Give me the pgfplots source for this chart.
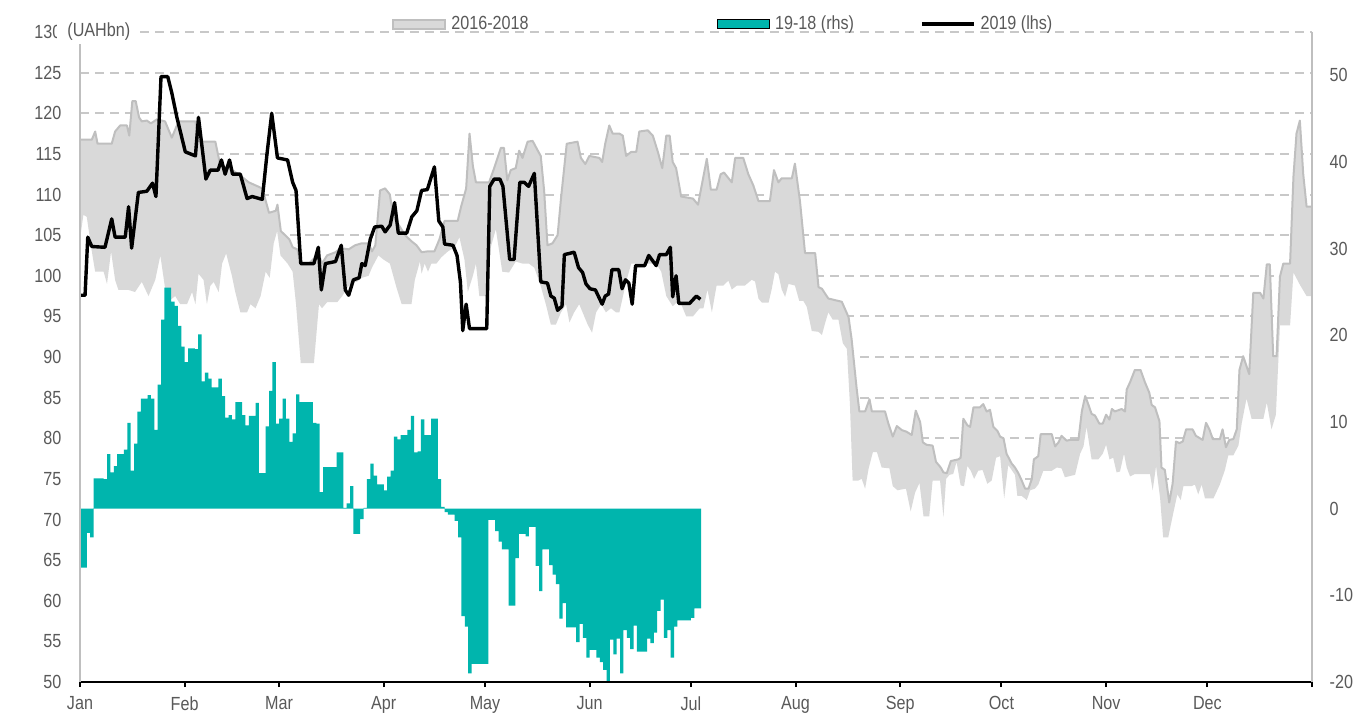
\documentclass[border=0pt]{standalone}
\usepackage{fontspec}
\setmainfont{Liberation Sans}[FakeStretch=0.85]
\usepackage{pgfplots}
\pgfplotsset{compat=1.18}
\usepackage{pgfplotstable}
\usepgfplotslibrary{fillbetween}
\definecolor{bandfill}{HTML}{D9D9D9}
\definecolor{bandline}{HTML}{BFBFBF}
\definecolor{tealc}{HTML}{00B5AD}
\definecolor{gridc}{HTML}{C8C8C8}
\definecolor{labc}{HTML}{595959}

\pgfplotstableread{
x y
0 116.75
3.5 116.75
4.5 117.75
5.2 116.25
9.4 116.25
10.4 117.75
11.9 118.5
13.9 118.5
14.6 117.25
15.5 121.5
16.5 121.5
17.5 119.5
18.3 119
19.8 119.1
21 118.75
22.8 119.25
25.2 119
27.2 117
29.2 119
34.2 119
35.1 116.5
40.1 116.5
41.6 113.5
44 113.25
45.5 112.9
48.5 112
50 111.5
54 110.75
56 107.75
58 108
58.5 108.75
59.5 105.5
62 104.5
63 103.5
64.4 103.25
65.4 101.5
67.8 101.5
69.3 102.1
70.8 102.5
71.7 101.5
73.2 102.5
75.7 102.9
77.2 103.4
79.6 103.25
81.5 103.75
83.5 104
85.5 104
86.5 103
87.5 103.75
88.9 110.5
90.4 110.75
91.8 110
92.8 107.25
94.8 106
96.3 105
98.2 104.25
99.7 103.75
101.2 102.9
103 103
105 103
106.5 104.5
108 106.75
111.9 106.75
112.9 108.5
114.4 110.75
115.4 117.5
116.4 113.5
117.3 111.5
121.2 111.5
122.7 113.25
124.7 115.75
125.6 115.75
126.6 111.75
127.6 113
129.1 113.25
130.1 115.4
131.1 114.5
132.6 116.5
134.1 116.6
135.5 115.5
136.5 114.75
137.5 110.5
138.5 103.75
140 104
141.5 105
142.5 109.5
144.2 116.25
147.4 116.5
148.4 114.5
149.7 113.75
150.9 114.75
153.9 114.5
154.7 114
155.6 116.25
156.8 118.5
157.8 117.5
159.8 117.5
160.8 117.25
161.8 114.75
163.3 115.25
164.8 115.25
165.7 117.75
168.2 117.9
169.7 117.25
171.2 115.25
172.5 113.25
173.7 117.25
174.7 117.25
175.6 114
176.6 113.25
178.1 109.75
181.6 109.5
183.1 108.75
185.7 114.4
186.9 110.6
188.6 110.6
189.8 112.5
190.8 112.7
193.1 111.5
194.1 114.5
196.5 114.5
198 112.5
199.5 111.1
201 109.2
204.4 109.2
205.6 113
206.9 111.5
207.9 112
210.9 112
211.8 113.8
213.3 109.2
214.8 102.8
217.8 102.8
218.8 98.6
219.8 98.4
221.7 97.2
225.7 96.8
227.7 94.9
228.6 92.2
230.1 86.1
230.9 83.3
232.6 83.3
233.9 84.8
234.6 83.3
238.5 83.3
239.5 81.8
240.8 80.2
242 81.5
243.5 81
244.9 80.8
246.4 80.4
247.6 83.4
248.9 82
249.7 79.5
250.8 79.2
252.6 79.1
253.6 77.1
255 76.4
255.8 75.8
256.8 75.7
258 77.2
260.2 77.4
260.9 77.6
261.7 82.4
262.9 81.6
263.7 81.4
264.7 83.8
266.6 83.8
267.6 84.2
268.6 83.3
269.6 83.5
270.6 81.4
271.8 80.9
272.6 80.2
273.6 80
274.5 78.1
276 76.9
277 76.4
278 75.7
279 74.8
280 73.8
281 73.8
282 75
282.6 77.4
283.9 77.8
284.6 80.5
287.9 80.5
288.9 79
289.9 79.5
290.8 80.3
292.3 79.7
293.3 79.8
295.8 79.8
296.8 83.3
297.8 85.2
298.7 84.2
299.7 83
300.7 82.8
302 81.8
303 81.8
304 82.9
305 82.3
305.7 83.6
306.6 83.3
308.6 83.6
309.6 83.3
310.1 86
311.1 86.9
312.5 88.4
314.2 88.4
315.5 86.9
316.8 85.6
317.5 84.1
318.5 83.8
319.8 82.1
320.4 76.4
321.4 76.1
322.7 72.1
323.7 74.4
324.7 79.6
325.7 79.4
326.7 79.6
327.7 81.1
329.6 81.1
330.6 80.3
332.6 79.8
333.6 81.9
334.6 81.1
335.6 79.9
337.7 79.9
338.5 81.1
339.5 78.9
340.5 79.8
341.7 79.9
342.7 81.1
343.5 88.4
344.6 90.1
346.4 87.9
347.6 97.9
349.6 97.9
350.6 97.2
351.6 101.4
352.5 101.4
353.5 90.1
354.5 90.1
355.5 99.9
356.5 101.5
358.5 101.5
359.5 112.2
360.4 117.5
361.4 119.1
362.4 112.5
363.4 108.5
365 108.5
}\upperband

\pgfplotstableread{
x y
0 104.5
1 107.5
2 107.25
3.5 103
4.5 100.5
7 100.5
8 99
9.2 103
10.4 99.5
11.4 98.25
14.4 98.25
16.3 98
18.3 99.25
20.3 97.5
22.3 99.5
23.8 102.5
25.2 98.5
26.7 97
28.2 97.5
29.7 96.5
31.7 96.5
33.2 98
34.2 96.5
35.1 100.25
36.6 99.5
37.6 96.5
38.6 98.75
39.6 99.25
41.1 98
42.1 101.5
43.3 102.75
45 100
46 98
47.5 95.5
49.5 95.5
50.5 96.5
52 96
53.5 97.5
55 100.5
56.2 99.75
57.4 104
58.4 105.5
59.4 102.5
61.5 101.5
63 100.5
64 96.5
65.4 89.25
69.3 89.25
70.8 96.5
71.7 96
73.2 96.75
76.2 96.75
77.7 97.5
79.1 98.5
80.6 99.25
82 99.25
83.5 99.75
85.5 100
86.5 101
88.4 102.5
89.9 102
91.8 101.5
93.8 98.5
95.3 96.5
98.2 96.5
99.2 99.5
100.7 101.75
101.2 100.25
102.1 101.5
103.1 100.5
104.1 101.5
105.6 101.5
107 102.25
109 103
111 103.5
112.4 104.75
113.9 102
114.9 98
116.4 100
117.3 101.5
118.3 97.5
120.7 97.5
121.7 103.5
123.2 105.75
125.1 100.5
127.1 100.4
129.1 101.75
131.1 101.5
133 101.5
134.6 101
136.5 98.75
138 96.5
139.5 94
141 94
142.5 95.5
144 96.5
145 94.25
146.4 95.5
147.9 96.5
149.4 95
150.4 94
151.7 93
152.9 95.5
154.4 96.5
155.8 95.5
157.3 96
158.8 95.5
159.8 95.5
161.8 99.25
163.3 101.5
170.7 101.5
172.2 100.5
173.7 97.5
175.6 96.25
177.6 97
179.6 95
181.6 95
183.6 96
184.7 96
185.9 98.3
187.2 95.5
188.6 98.8
190.6 98.8
192.1 99.4
193.1 98.3
194.6 98.8
197 98.8
199 99.5
200 99.3
201 97.2
202 96.7
204 96.7
204.9 98.3
205.9 100.5
206.9 100.2
207.9 98.3
208.9 97.4
209.9 99
211.8 98.8
213.1 96.9
214.3 96.9
215.3 96.2
216.8 93.2
218.8 93.1
219.8 92.7
220.7 94.1
221.7 95.5
223 94.6
224.7 94.6
226 91.7
227.2 91
228.1 84.2
228.9 74.8
230.6 74.8
231.6 75
232.6 73.8
233.6 76.2
234.9 78.3
236.1 78.3
237.5 76.4
239.8 76.3
240.8 74.1
242.2 73.6
244.7 73.8
246.1 71
247.4 73.3
248.7 74.5
249.9 70.4
251.6 70.4
252.6 74.8
254.8 74.8
255.8 70.3
256.6 75
257.6 75.5
258.7 75.6
259.7 77.1
260.9 74.2
261.9 74.1
262.9 76.6
263.9 76
264.9 75
266.1 76
267.4 76.1
268.8 74.4
270.1 74.8
271.4 77.6
272.6 77.8
273.8 72.6
275 76.7
275.7 76.3
277 75.5
277.7 72.9
279 72.9
280.5 72.4
281.5 73.6
282.9 73.8
283.9 74.3
285.4 76
287.9 76
289.4 76.4
290.8 76.3
291.8 75.2
294.8 75.5
296.3 78.1
297.3 79
298.2 81.4
299.7 77.4
301.7 77.4
303 78.1
304 79.2
305 77.4
306.1 77.6
307.1 75.8
308.1 75.9
309.3 78.1
310.1 76.4
311.1 75.3
312.5 75.6
317 75.6
317.8 73.6
318.8 76.6
320 72.6
320.9 67.8
322.4 67.8
323.9 70.8
325.1 73.1
326.1 72.4
326.9 74.1
329.3 74.1
330.3 74.3
331.3 73.1
332.3 74.3
333.3 72.6
335.8 72.6
337.7 74.3
339.2 76.1
340.2 77.9
341.7 77.9
343.2 79.1
344.2 81.9
345.6 84.9
347.1 82.4
350.6 82.4
351.6 84.4
353 81.1
354.3 82.9
355.5 93.9
358.5 93.9
359.5 100.4
361.4 98.9
363.4 97.5
365 97.5
}\lowerband

\pgfplotstableread{
x y
0 50
365 50
}\baseband

\pgfplotstableread{
x y
0 97.6
1.5 97.6
2.3 104.75
3.5 103.6
7.4 103.5
9.4 107
10.4 104.75
13.4 104.75
14.4 108.5
15.3 103.4
17.3 110.25
19.8 110.4
21.5 111.4
22.5 109.75
24 124.5
26 124.5
27.2 122.5
28.7 119.5
31.2 115.25
34.2 114.75
35.1 119.5
37.3 111.9
38.6 113
40.9 113
41.9 114.25
43 112.5
44.3 114.25
45.2 112.5
47.5 112.5
49.5 109.5
51 109.75
54 109.4
55.4 115
56.8 120
58.5 114.5
61.5 114.25
63 111.5
64 110.5
65.4 101.5
69.3 101.5
70.6 103.5
71.5 98.25
72.7 101.5
75.7 101.75
77.4 103.75
78.6 98.25
79.6 97.6
81 99.5
82.7 99.75
83.5 101.5
84.5 101.25
86 104.5
87.3 106
89.4 106.1
90.4 105.4
91.9 106.25
93.2 109
94.3 105.25
96.8 105.25
98.3 107.25
99.8 108
101.2 110.5
102.9 110.6
105 113.4
106.3 106.75
107.5 106
108 103.9
110.5 103.75
111.7 102.5
112.7 99.25
113.4 93.25
114.4 96.5
115.4 93.5
120.5 93.5
121.4 111
122.7 111.9
124.4 111.9
125.3 111
127.3 102
128.6 102
130.3 111.5
131.6 111.5
132.9 111
134.6 112.6
136.5 99.25
138.5 99.1
139.5 97.5
140.5 97.25
141.5 95.75
142.8 96.25
143.5 102.6
145 102.75
146.4 102.9
147.7 101
148.9 100.4
149.9 99
151.1 98.4
152.7 98.25
154.7 96.5
155.6 97.5
156.6 97.75
157.6 100.75
159.6 100.75
160.6 98.4
161.6 99.5
162.6 99.1
163.6 96.5
164.6 101.25
167.3 101.25
168.5 102.5
170.7 101.25
171.7 102.6
173.7 102.6
174.9 103.5
175.6 97.4
176.6 100
177.4 96.6
180.6 96.6
182.6 97.5
183.8 97.1
}\blackline

\pgfplotstableread{
x y
0 -6.8
2 -2.8
3 -3.3
4 3.5
7 3.4
8 6.3
9 4.2
10 4.9
11 6.3
13 6.8
14 9.9
15 4.4
16 7.5
17 11.2
18 12.7
20 13.1
21 12.7
22 9.1
23 14.3
24 21.8
25 25.5
27 23.9
28 23.4
29 21.1
30 18.7
31 16.9
32 18.5
34 18.4
35 20.1
36 14.7
37 15.7
38 15
39 14
41 15
42 13
43 10.5
44 10.8
45 10.3
46 12.3
48 10.8
49 9.6
50 10.7
52 12.2
53 4.1
55 9.5
56 13.6
57 16.9
58 9.8
59 10.4
60 12.7
61 10.4
62 7.7
63 8.7
64 13.2
65 12.3
69 9.9
70 9.8
71 1.9
72 4.8
76 6.5
78 0.1
79 0.6
80 2.6
81 -2.9
83 -1.2
84 0.1
85 3.4
86 5.2
87 3.8
88 2.8
90 2.1
91 3.7
92 4.4
93 8.3
94 8
95 8.5
97 9.1
98 10.7
99 6.5
100 6.6
101 10.3
102 8.5
104 10.4
106 3.4
107 0.2
108 -0.4
109 -0.7
111 -1.4
112 -3.3
113 -12.4
114 -13.6
115 -19
116 -17.9
121 -1.3
123 -2.6
124 -3.8
125 -4.7
127 -11.2
129 -5.7
130 -2.9
132 -3.2
133 -2.1
135 -6.6
136 -9.5
137 -4.7
139 -6.5
140 -7.6
141 -8.7
142 -12.7
143 -10.9
144 -13.7
147 -15.4
148 -13.3
149 -14.9
150 -17.2
151 -16.3
153 -17.2
154 -17.7
155 -18.6
156 -19.9
157 -15.1
158 -16.8
159 -15
160 -19
161 -14
162 -14.9
163 -16.2
164 -13.5
165 -16.5
168 -15
169 -15.5
170 -14.3
171 -11.8
172 -10.5
173 -14.9
174 -14
175 -17.2
176 -13.6
177 -12.9
181 -12.6
182 -11.5
184 -11.5
}\tealdata

\pgfplotsset{
  common/.style={width=616pt, height=325pt, scale only axis, xmin=0, xmax=365,
    tick label style={font=\fontsize{9.5}{11}\selectfont, text=labc}},
  boxlegend/.style={legend image code/.code={\draw[##1] (0pt,-2.25pt) rectangle (26pt,2.25pt);}},
  filllegend/.style={legend image code/.code={\fill[##1] (0pt,-2.25pt) rectangle (26pt,2.25pt);}},
  linelegend/.style={legend image code/.code={\draw[##1] (0pt,0pt) -- (26pt,0pt);}},
}

\begin{document}
\begin{tikzpicture}
% Axis 1: grid, left labels, band
\begin{axis}[common, ymin=50, ymax=130,
  axis line style={draw=none}, xtick=\empty,
  ytick={50,55,60,65,70,75,80,85,90,95,100,105,110,115,120,125,130},
  yticklabels={50,55,60,65,70,75,80,85,90,95,100,105,110,115,120,125,130},
  major tick length=0pt, ymajorgrids,
  major grid style={gridc, line width=1pt, dash pattern=on 4.5pt off 3pt},
  yticklabel style={xshift=-5.8pt}]
\addplot[name path=up, draw=none, forget plot] table {\upperband};
\addplot[name path=lo, draw=none, forget plot] table {\lowerband};
\addplot[name path=bs, draw=none, forget plot] table {\baseband};
\addplot[fill=white, draw=none, forget plot] fill between[of=up and bs];
\addplot[fill=bandfill, draw=none, forget plot] fill between[of=up and lo];
\addplot[bandline, line width=1pt, line join=round, forget plot] table {\upperband};
\end{axis}
% Axis 2: teal bars (rhs)
\begin{axis}[common, ymin=-20, ymax=55,
  axis line style={draw=none}, axis y line*=right, xtick=\empty,
  ytick={-20,-10,0,10,20,30,40,50},
  yticklabels={-20,-10,0,10,20,30,40,50},
  major tick length=0pt,
  yticklabel style={xshift=5.3pt}]
\addplot[const plot, fill=tealc, draw=none] table {\tealdata} \closedcycle;
\end{axis}
% Axis 3: 2019 line, axes, legend
\begin{axis}[common, ymin=50, ymax=130, axis on top,
  axis x line*=bottom, axis y line*=box,
  x axis line style={-, black, line width=1pt},
  y axis line style={-, bandline, line width=0.7pt},
  ytick=\empty,
  xtick={0,31,59,90,120,151,181,212,243,273,304,334,365},
  xticklabels={Jan,Feb,Mar,Apr,May,Jun,Jul,Aug,Sep,Oct,Nov,Dec,},
  tick align=outside, major tick length=2.5pt,
  x tick style={black, line width=1pt},
  xticklabel style={yshift=-1.3pt},
  legend columns=3,
  legend style={at={(rel axis cs:0.2532,1.0123)}, anchor=west, draw=none, fill=none,
    inner sep=0pt, font=\fontsize{9.5}{11}\selectfont, text=labc,
    nodes={inner sep=0pt},
    /tikz/every odd column/.style={column sep=2.5pt},
    /tikz/every even column/.style={column sep=0pt}},
  legend cell align=left]
\addlegendimage{boxlegend, fill=bandfill, draw=bandline, line width=1pt}
\addlegendentry{\makebox[133pt][l]{2016-2018}}
\addlegendimage{filllegend, fill=tealc}
\addlegendentry{\makebox[72.5pt][l]{19-18 (rhs)}}
\addplot[linelegend, black, line width=1.7pt, line join=round] table {\blackline};
\addlegendentry{2019 (lhs)}
\coordinate (bl) at (rel axis cs:0,0);
\coordinate (tl) at (rel axis cs:0,1);
\coordinate (tr) at (rel axis cs:1,1);
\end{axis}
\node[anchor=west, fill=white, inner xsep=5pt, inner ysep=1.5pt, text=labc,
  font=\fontsize{9.5}{11}\selectfont] at ([xshift=-11.5pt]tl) {(UAHbn)};
\pgfresetboundingbox
\path[use as bounding box] ([shift={(-40pt,-16pt)}]bl) rectangle ([shift={(23.5pt,16pt)}]tr);
\end{tikzpicture}
\end{document}
